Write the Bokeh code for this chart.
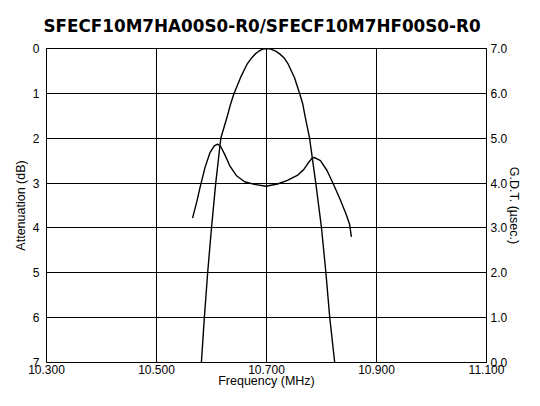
from bokeh.plotting import figure
from bokeh.models import Range1d, LinearAxis, FixedTicker, PrintfTickFormatter
from bokeh.embed import file_html
from bokeh.resources import INLINE

title_text = "SFECF10M7HA00S0-R0/SFECF10M7HF00S0-R0"

# Attenuation curve (dB, inverted left axis)
att_freq = [10.5816, 10.5870, 10.5930, 10.6000, 10.6077, 10.6169, 10.6290, 10.6349,
            10.6408, 10.6529, 10.6647, 10.6733, 10.6800, 10.6860, 10.6930, 10.7000,
            10.7080, 10.7167, 10.7240, 10.7317, 10.7395, 10.7508, 10.7604, 10.7658,
            10.7700, 10.7783, 10.7896, 10.8000, 10.8080, 10.8150, 10.8240]
att_db = [7.0, 6.0, 5.0, 4.0, 3.0, 2.0, 1.5, 1.23,
          1.01, 0.645, 0.35, 0.205, 0.115, 0.06, 0.015, 0.0,
          0.015, 0.06, 0.12, 0.205, 0.35, 0.645, 1.01, 1.23,
          1.5, 2.0, 3.0, 4.0, 5.0, 6.0, 7.0]

# Group delay time curve (usec, right axis)
gdt_freq = [10.5655, 10.5732, 10.5793, 10.5883, 10.5973, 10.6050, 10.6110, 10.6170,
            10.6240, 10.6330, 10.6450, 10.6600, 10.6780, 10.6990, 10.7200, 10.7380,
            10.7560, 10.7676, 10.7766, 10.7825, 10.7868, 10.7920, 10.7981, 10.8100,
            10.8215, 10.8334, 10.8453, 10.8513, 10.8543]
gdt_usec = [3.22, 3.58, 3.91, 4.35, 4.68, 4.83, 4.87, 4.81,
            4.64, 4.39, 4.17, 4.03, 3.97, 3.93, 3.98, 4.06,
            4.17, 4.30, 4.46, 4.55, 4.57, 4.54, 4.50, 4.28,
            3.98, 3.65, 3.29, 3.07, 2.80]

x_ticks = [10.3, 10.5, 10.7, 10.9, 11.1]
att_ticks = [0, 1, 2, 3, 4, 5, 6, 7]
gdt_ticks = [0, 1, 2, 3, 4, 5, 6, 7]

FONT = "Liberation Sans"

p = figure(width=524, height=390, output_backend="svg", toolbar_location=None,
           x_range=Range1d(10.3, 11.1), y_range=Range1d(7, 0),
           min_border_left=46, min_border_right=32, min_border_top=48,
           min_border_bottom=24, title=title_text)
p.background_fill_color = "white"
p.border_fill_color = "white"
p.outline_line_color = "black"
p.outline_line_width = 1

p.title.text_font = "DejaVu Sans"
p.title.text_font_style = "bold"
p.title.text_font_size = "16.8px"
p.title.text_color = "black"
p.title.align = "left"
p.title.offset = -3
p.title.standoff = 26

p.extra_y_ranges = {"gdt": Range1d(0, 7)}
right_axis = LinearAxis(y_range_name="gdt")
p.add_layout(right_axis, "right")

def style_axis(ax, label, ticks, fmt=None):
    ax.axis_label = label
    ax.ticker = FixedTicker(ticks=ticks)
    if fmt is not None:
        ax.formatter = PrintfTickFormatter(format=fmt)
    ax.axis_line_color = "black"
    ax.major_tick_out = 0
    ax.major_tick_in = 0
    ax.minor_tick_out = 0
    ax.minor_tick_in = 0
    ax.major_label_text_font = FONT
    ax.major_label_text_font_size = "12px"
    ax.major_label_text_color = "black"
    ax.axis_label_text_font = FONT
    ax.axis_label_text_font_size = "12.5px"
    ax.axis_label_text_font_style = "normal"
    ax.axis_label_text_color = "black"

style_axis(p.xaxis[0], "Frequency (MHz)", x_ticks, "%.3f")
style_axis(p.yaxis[0], "Attenuation (dB)", att_ticks)
style_axis(right_axis, "G.D.T. (\u00b5sec.)", gdt_ticks, "%.1f")

p.xaxis[0].major_label_standoff = 2
p.xaxis[0].axis_label_standoff = -3
p.yaxis[0].major_label_standoff = 7
p.yaxis[0].axis_label_standoff = 2
right_axis.major_label_standoff = 4
right_axis.axis_label_standoff = -3

p.xgrid.ticker = FixedTicker(ticks=x_ticks)
p.ygrid.ticker = FixedTicker(ticks=att_ticks)
for g in (p.xgrid[0], p.ygrid[0]):
    g.grid_line_color = "black"
    g.grid_line_alpha = 1.0
    g.grid_line_width = 1

p.line(att_freq, att_db, line_color="black", line_width=1.4)
p.line(gdt_freq, gdt_usec, line_color="black", line_width=1.4, y_range_name="gdt")

open("out.html", "w").write(file_html(p, INLINE))
